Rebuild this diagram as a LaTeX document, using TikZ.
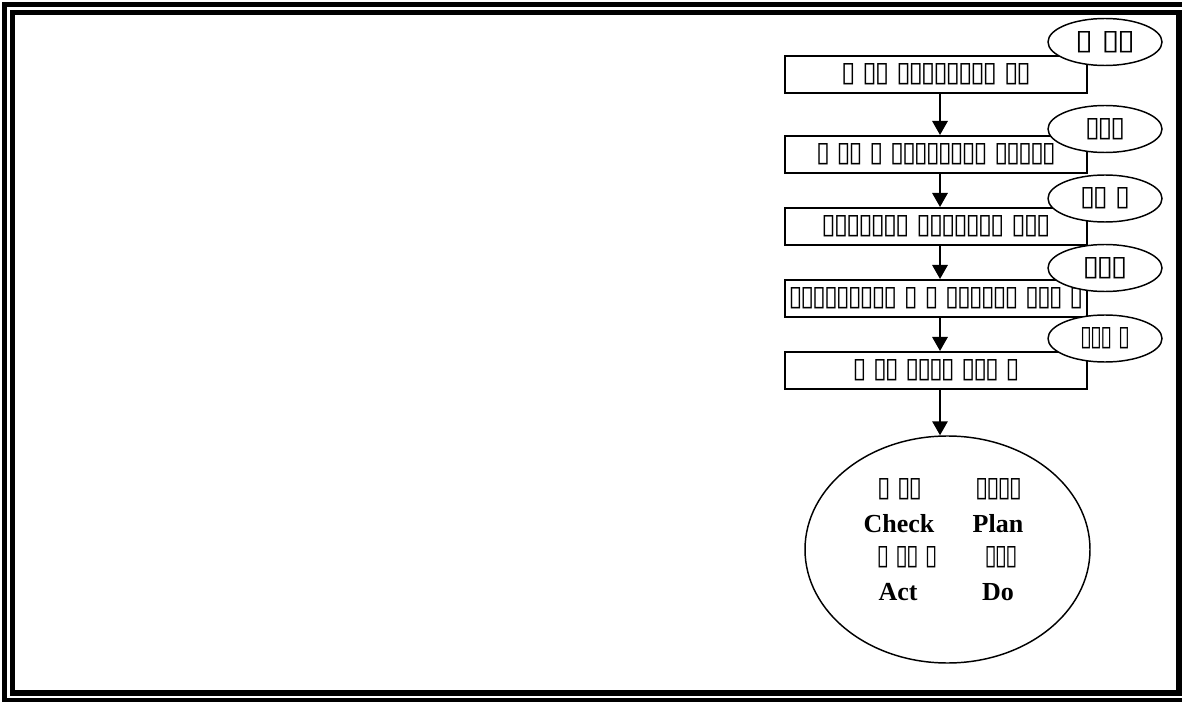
\documentclass[tikz,border=0pt]{standalone}
\usepackage{fontspec}
\setmainfont{Liberation Serif}
\newfontfamily\dvs[LetterSpace=-8]{DejaVu Sans Bold}
\usepackage{graphicx}
\usetikzlibrary{arrows.meta,shapes.geometric}
\newcommand\tfs[2]{\resizebox{#1}{13.5pt}{\dvs #2}}
\begin{document}
\begin{tikzpicture}[x=0.75pt,y=-0.75pt,
  frame/.style={line width=4.2pt},
  stepbox/.style={draw,line width=1.5pt,minimum width=226.5pt,minimum height=27.75pt,inner sep=0pt},
  tag/.style={draw,ellipse,fill=white,line width=1.1pt,minimum width=85.5pt,minimum height=35.25pt,inner sep=0pt},
  flow/.style={line width=1.5pt,-{Triangle[width=11.5pt,length=10.5pt]}},
  lbl/.style={inner sep=0pt,font=\fontsize{19.5}{22}\selectfont\bfseries},
  tf/.style={inner sep=0pt}]
\useasboundingbox (0,0) rectangle (1182,702);
\begin{scope}
\clip (0,0) rectangle (1182,702);
\draw[frame] (4.5,4.5) rectangle (1190,701);
\draw[frame] (12.5,12.5) rectangle (1179,693);
\end{scope}
% step boxes
\node[stepbox] (b1) at (936,74.5) {\tfs{142.5pt}{▯ ▯▯ ▯▯▯▯▯▯▯▯ ▯▯}};
\node[stepbox] (b2) at (936,154.5) {\tfs{180pt}{▯ ▯▯ ▯ ▯▯▯▯▯▯▯▯ ▯▯▯▯▯}};
\node[stepbox] (b3) at (936,226.5) {\tfs{171.75pt}{▯▯▯▯▯▯▯ ▯▯▯▯▯▯▯ ▯▯▯}};
\node[stepbox] (b4) at (936,298.5) {\tfs{221.25pt}{▯▯▯▯▯▯▯▯▯ ▯ ▯ ▯▯▯▯▯▯ ▯▯▯ ▯}};
\node[stepbox] (b5) at (936,370.5) {\tfs{125.25pt}{▯ ▯▯ ▯▯▯▯ ▯▯▯ ▯}};
% tags
\node[tag] (e1) at (1105,42) {\tfs{45pt}{▯ ▯▯}};
\node[tag] (e2) at (1105,129) {\tfs{30pt}{▯▯▯}};
\node[tag] (e3) at (1105,198.5) {\tfs{37.5pt}{▯▯ ▯}};
\node[tag] (e4) at (1105,268) {\tfs{33.75pt}{▯▯▯}};
\node[tag] (e5) at (1105,338.5) {\tfs{37.5pt}{▯▯▯ ▯}};
% PDCA ellipse
\node[draw,ellipse,line width=1.1pt,minimum width=213.75pt,minimum height=170.25pt,inner sep=0pt] (c) at (947.5,549.5) {};
\node[tf,anchor=south] (t1) at (899.5,500) {\tfs{33.75pt}{▯ ▯▯}};
\node[tf,anchor=south] (t2) at (998.5,500) {\tfs{35.25pt}{▯▯▯▯}};
\node[lbl,anchor=base] (ck) at (899,532) {Check};
\node[lbl,anchor=base] (pl) at (998,532) {Plan};
\node[tf,anchor=south] (t3) at (907,568) {\tfs{45.75pt}{▯ ▯▯ ▯}};
\node[tf,anchor=south] (t4) at (1001,568) {\tfs{24.75pt}{▯▯▯}};
\node[lbl,anchor=base] (ac) at (898,600) {Act};
\node[lbl,anchor=base] (do) at (998,600) {Do};
% arrows
\draw[flow] ([xshift=3pt]b1.south) -- ([xshift=3pt]b2.north);
\draw[flow] ([xshift=3pt]b2.south) -- ([xshift=3pt]b3.north);
\draw[flow] ([xshift=3pt]b3.south) -- ([xshift=3pt]b4.north);
\draw[flow] ([xshift=3pt]b4.south) -- ([xshift=3pt]b5.north);
\draw[flow] ([xshift=3pt]b5.south) -- ([xshift=3pt]b5.south |- c.north);
\end{tikzpicture}
\end{document}
